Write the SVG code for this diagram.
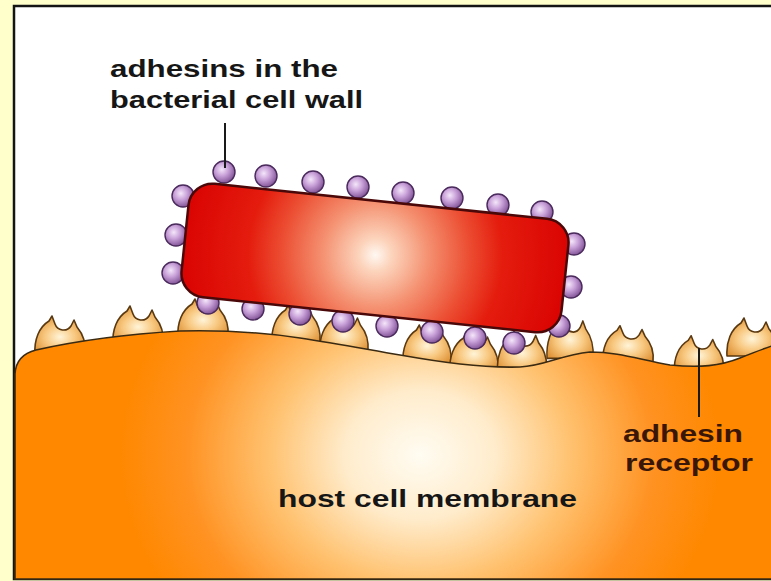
<svg xmlns="http://www.w3.org/2000/svg" xmlns:xlink="http://www.w3.org/1999/xlink" width="771" height="581" viewBox="0 0 771 581">
  <style>
    .lbl { font-family: "Liberation Sans", Arial, sans-serif; font-weight: bold; font-size: 24px; fill: #161616; }
    .lbl-brown { fill: #3a1608; }
    .cup { fill: url(#cupFill); stroke: #5a3810; stroke-width: 1.6; stroke-linejoin: round; }
    .ball { fill: url(#ballFill); stroke: #4a2a5c; stroke-width: 1.4; }
    .leader { stroke: #1a1a1a; stroke-width: 2; fill: none; }
  </style>
  <defs>
    <radialGradient id="hostFill" gradientUnits="userSpaceOnUse" cx="420" cy="455" r="300" gradientTransform="translate(420 455) scale(1 0.85) translate(-420 -455)">
      <stop offset="0" stop-color="#fffcf2"/>
      <stop offset="0.25" stop-color="#ffeccc"/>
      <stop offset="0.5" stop-color="#ffc270"/>
      <stop offset="0.78" stop-color="#ff9222"/>
      <stop offset="1" stop-color="#ff8800"/>
    </radialGradient>
    <!-- centred on the cell body, in its local (rotated) space -->
    <radialGradient id="cellFill" gradientUnits="userSpaceOnUse" cx="0" cy="-3" r="205">
      <stop offset="0" stop-color="#fff8f2"/>
      <stop offset="0.08" stop-color="#fcd4bc"/>
      <stop offset="0.26" stop-color="#f49070"/>
      <stop offset="0.45" stop-color="#ec5034"/>
      <stop offset="0.62" stop-color="#e41c0e"/>
      <stop offset="1" stop-color="#d80000"/>
    </radialGradient>
    <radialGradient id="ballFill" cx="0.4" cy="0.38" r="0.6">
      <stop offset="0" stop-color="#f4e6fa"/>
      <stop offset="0.5" stop-color="#c8a0d8"/>
      <stop offset="1" stop-color="#8a5c9e"/>
    </radialGradient>
    <radialGradient id="cupFill" cx="0.5" cy="0.55" r="0.6">
      <stop offset="0" stop-color="#fff4d8"/>
      <stop offset="0.5" stop-color="#f8c880"/>
      <stop offset="1" stop-color="#de9236"/>
    </radialGradient>
    <!-- receptor cup, origin at base centre -->
    <path id="cup" d="M -25,4 C -26,-10 -21,-23 -11,-29 L -8,-34 L -5,-26 A 9 9 0 0 0 11,-24 L 14,-30 L 17,-23 C 23,-16 26,-6 25,4 Z"/>
  </defs>

  <!-- page and frame -->
  <rect x="0" y="0" width="771" height="581" fill="#ffffcc"/>
  <rect x="14" y="6" width="800" height="573" fill="#ffffff" stroke="#141414" stroke-width="2.5"/>

  <!-- adhesin receptors on the host surface -->
  <g id="receptors">
    <use xlink:href="#cup" class="cup" transform="translate(60 350)"/>
    <use xlink:href="#cup" class="cup" transform="translate(138 340)"/>
    <use xlink:href="#cup" class="cup" transform="translate(203 333)"/>
    <use xlink:href="#cup" class="cup" transform="translate(296 339) scale(0.96 1)"/>
    <use xlink:href="#cup" class="cup" transform="translate(344 348) scale(0.96 1)"/>
    <use xlink:href="#cup" class="cup" transform="translate(427 359) scale(0.96 1)"/>
    <use xlink:href="#cup" class="cup" transform="translate(474 367) scale(0.96 1)"/>
    <use xlink:href="#cup" class="cup" transform="translate(522 367) scale(0.98 1.05)"/>
    <use xlink:href="#cup" class="cup" transform="translate(570 354) scale(0.92 1.1)"/>
    <use xlink:href="#cup" class="cup" transform="translate(628 358) scale(1 0.95)"/>
    <use xlink:href="#cup" class="cup" transform="translate(699 368) scale(0.98 0.95)"/>
    <use xlink:href="#cup" class="cup" transform="translate(752 352)"/>
  </g>

  <!-- host cell -->
  <g id="host-cell">
    <path d="M 15,374 Q 16,355 36,350 C 80,340 130,334 180,331 C 220,330 260,332 300,338 C 340,344 370,350 400,355 C 440,362 480,368 520,367 C 545,366 560,355 590,352 C 620,352 640,360 670,365 C 700,368 720,366 740,358 C 755,352 765,348 775,345 L 775,579 L 15,579 Z" fill="url(#hostFill)" stroke="#3a2a12" stroke-width="1.6"/>
  </g>

  <!-- bacterium with surface adhesins -->
  <g id="bacterium">
    <g id="adhesins">
      <circle class="ball" cx="224" cy="172" r="11"/>
      <circle class="ball" cx="266" cy="176" r="11"/>
      <circle class="ball" cx="313" cy="182" r="11"/>
      <circle class="ball" cx="358" cy="187" r="11"/>
      <circle class="ball" cx="403" cy="193" r="11"/>
      <circle class="ball" cx="452" cy="198" r="11"/>
      <circle class="ball" cx="498" cy="205" r="11"/>
      <circle class="ball" cx="542" cy="212" r="11"/>
      <circle class="ball" cx="183" cy="196" r="11"/>
      <circle class="ball" cx="176" cy="235" r="11"/>
      <circle class="ball" cx="173" cy="273" r="11"/>
      <circle class="ball" cx="574" cy="244" r="11"/>
      <circle class="ball" cx="571" cy="287" r="11"/>
      <circle class="ball" cx="559" cy="326" r="11"/>
      <circle class="ball" cx="208" cy="303" r="11"/>
      <circle class="ball" cx="253" cy="309" r="11"/>
      <circle class="ball" cx="300" cy="314" r="11"/>
      <circle class="ball" cx="343" cy="321" r="11"/>
      <circle class="ball" cx="387" cy="326" r="11"/>
      <circle class="ball" cx="432" cy="332" r="11"/>
      <circle class="ball" cx="475" cy="338" r="11"/>
      <circle class="ball" cx="514" cy="343" r="11"/>
    </g>
    <rect x="-191" y="-57" width="382" height="114" rx="24" ry="24" transform="translate(375 258) rotate(6)" fill="url(#cellFill)" stroke="#4a0808" stroke-width="2.5"/>
  </g>

  <!-- leader lines -->
  <g id="connectors">
    <line class="leader" x1="225" y1="123" x2="225" y2="168"/>
    <line class="leader" x1="699" y1="348" x2="699" y2="417" stroke="#3a1010"/>
  </g>

  <!-- labels -->
  <g id="label-adhesins">
    <text class="lbl" x="110" y="77" textLength="228" lengthAdjust="spacingAndGlyphs">adhesins in the</text>
    <text class="lbl" x="110" y="108" textLength="253" lengthAdjust="spacingAndGlyphs">bacterial cell wall</text>
  </g>
  <g id="label-membrane">
    <text class="lbl" x="278" y="507" textLength="299" lengthAdjust="spacingAndGlyphs">host cell membrane</text>
  </g>
  <g id="label-receptor">
    <text class="lbl lbl-brown" x="623" y="442" textLength="120" lengthAdjust="spacingAndGlyphs">adhesin</text>
    <text class="lbl lbl-brown" x="625" y="471" textLength="128" lengthAdjust="spacingAndGlyphs">receptor</text>
  </g>
</svg>
